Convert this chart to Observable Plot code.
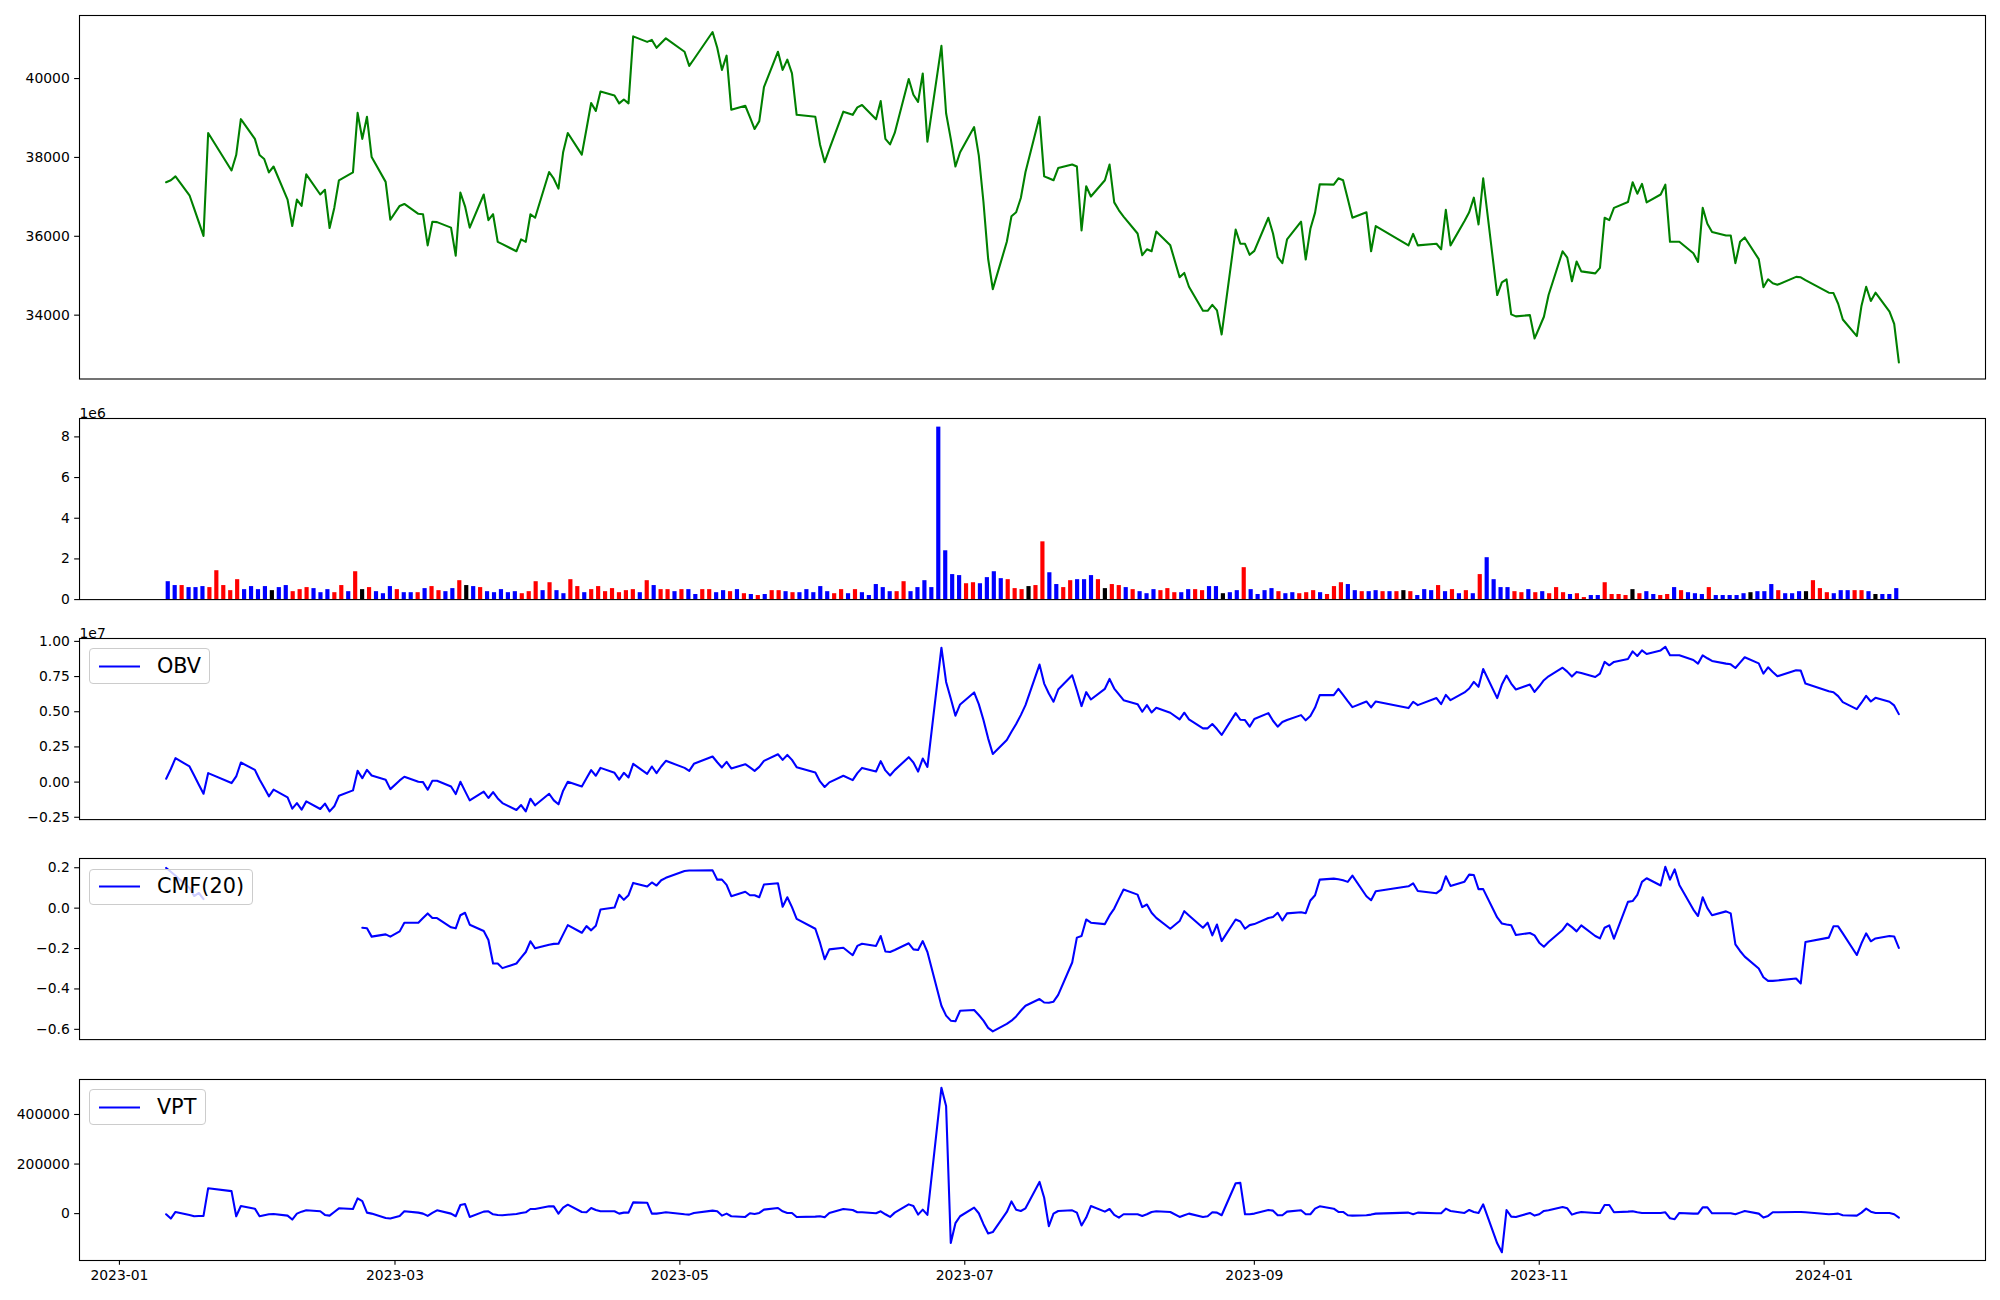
<!DOCTYPE html>
<html><head><meta charset="utf-8">
<script src="https://cdn.jsdelivr.net/npm/d3@7"></script>
<script src="https://cdn.jsdelivr.net/npm/@observablehq/plot@0.6"></script>
<style>
body{margin:0;background:#fff;}
#root{position:relative;width:2000px;height:1300px;font-family:"DejaVu Sans";}
.panel{position:absolute;left:0;}
.legend{position:absolute;background:rgba(255,255,255,0.8);border:1px solid #cccccc;border-radius:4px;display:flex;align-items:center;font-family:"DejaVu Sans";font-size:20.8px;padding:6.5px 8.3px;line-height:21px;color:#000;}
.legend svg{display:block;margin-right:16.6px;}
</style></head><body><div id="root"></div>
<script>
// ---- calendar (trading days) ----
const START = "2023-01-11", END = "2024-01-17";
const HOLIDAYS = ["2023-01-23","2023-01-24","2023-03-01","2023-05-01","2023-05-05","2023-05-29","2023-06-06","2023-08-15","2023-09-28","2023-09-29","2023-10-02","2023-10-03","2023-10-09","2023-12-25","2023-12-29","2024-01-01"];

// ---- close price ----
const CLOSE = [
37370,37420,37520,37040,36700,36360,36010,38620,37670,38060,38970,38470,38060,
37960,37620,37770,36930,36260,36930,36770,37570,37060,37180,36210,36720,37420,37620,39130,38470,39030,38010,37380,36420,
36770,36820,36570,36560,35770,36370,36360,36220,35510,37110,36760,36220,37060,36410,36560,35860,35800,35620,35920,35860,36560,36470,
37630,37460,37210,38130,38620,38070,38720,39380,39180,39670,39570,39370,39470,39370,41070,40930,40980,40780,40900,41020,
40680,40320,40490,41180,40780,40220,40580,39210,39310,39020,38720,38920,39780,40680,40220,40480,40130,39080,39030,38330,
37880,38210,39160,39080,39270,39330,38970,39430,38470,38330,38620,39990,39590,39410,40130,38400,40830,39120,38470,37770,38130,
38770,38050,36870,35430,34660,35860,36510,36610,36970,37630,39030,37520,37470,37420,37730,37820,37770,36150,37270,37010,37420,
37820,36860,36660,36500,36070,35520,35670,35620,36120,35770,34960,35070,34720,34110,34110,34260,34120,33510,36170,35810,35810,35530,
35630,36470,36070,35470,35320,35920,36370,35410,36190,36600,37320,37310,37470,37420,36950,36470,36610,35620,36260,
35770,36060,35770,35810,35670,36670,35770,36390,36610,36980,36300,37470,34510,34830,34910,34020,33970,34000,33410,
33680,33960,34510,35620,35460,34860,35360,35110,35060,35200,36470,36410,36720,36870,37370,37080,37330,36860,37060,37310,35860,35860,
35860,35570,35350,36720,36320,36110,36020,36020,35320,35860,35970,35420,34710,34910,34810,34770,34970,34960,34890,
34570,34560,34290,33890,33470,34240,34720,34360,34570,34090,33780,32800];

// ---- volume (units of 1e6) ----
const VOLUME = [
0.88,0.69,0.69,0.59,0.59,0.64,0.59,1.42,0.69,0.44,0.98,0.49,0.64,
0.49,0.64,0.44,0.59,0.69,0.39,0.49,0.59,0.54,0.34,0.49,0.34,0.69,0.39,1.37,0.49,0.59,0.39,0.29,0.64,
0.49,0.34,0.34,0.34,0.54,0.64,0.44,0.39,0.54,0.93,0.69,0.64,0.59,0.39,0.34,0.49,0.34,0.39,0.29,0.39,0.88,0.44,
0.83,0.44,0.29,0.98,0.64,0.34,0.49,0.64,0.39,0.54,0.34,0.44,0.49,0.34,0.93,0.69,0.49,0.49,0.39,0.49,
0.49,0.25,0.49,0.49,0.34,0.44,0.39,0.49,0.29,0.25,0.20,0.25,0.44,0.44,0.39,0.34,0.34,0.49,0.34,0.64,
0.39,0.29,0.49,0.29,0.49,0.34,0.20,0.74,0.59,0.39,0.39,0.88,0.39,0.59,0.93,0.59,8.48,2.40,1.23,1.18,0.78,
0.83,0.78,1.08,1.37,1.03,0.98,0.54,0.49,0.64,0.69,2.84,1.32,0.74,0.59,0.93,0.98,0.98,1.18,0.98,0.54,0.74,
0.69,0.59,0.49,0.39,0.29,0.49,0.44,0.54,0.34,0.34,0.49,0.49,0.44,0.64,0.64,0.29,0.34,0.44,1.57,0.49,0.25,0.44,
0.54,0.39,0.29,0.34,0.29,0.34,0.44,0.34,0.25,0.64,0.83,0.74,0.44,0.39,0.39,0.44,0.39,0.39,0.39,
0.44,0.39,0.20,0.49,0.44,0.69,0.39,0.49,0.29,0.44,0.29,1.23,2.06,0.98,0.59,0.59,0.39,0.34,0.49,
0.34,0.39,0.29,0.59,0.34,0.25,0.29,0.10,0.20,0.20,0.83,0.25,0.25,0.20,0.49,0.29,0.39,0.25,0.20,0.25,0.59,0.44,
0.34,0.29,0.25,0.59,0.20,0.20,0.20,0.20,0.29,0.34,0.39,0.39,0.74,0.44,0.29,0.29,0.39,0.39,0.93,
0.54,0.34,0.29,0.44,0.44,0.44,0.44,0.39,0.25,0.25,0.25,0.54];

// bar colour per day: B = blue, R = red, K = black
const VOLUME_COLOR = ("BBRBBBRRRRRBB"+"BBKBBRRRBBBRRBRKRBBB"+"RBBRBRRBBRKBRBBBBBRRRB"+"RBBRRBRRRRRRRBRBRRBR"+
  "BBRRBBRBRBRBRRBRBBBB"+"BRRBRBBBBBRRBBBBBBBBR"+"RBBBBRRRKRRBBRRBBBRKR"+"RBRBBBRRRBBRRBBKBBRBBB"+
  "BRBBRRRBRRRBBRBBRBR"+"KRBBBRBRBRBRBBBBRRB"+"RBRRRBRRBBRRRRKRBBRRBR"+"BBBRBBBBBKBBBRBBBKR"+"RRBBBRRBKBBB").split("");

// ---- OBV (units of 1e7) ----
const OBV = [
0.024,0.093,0.170,0.111,0.047,-0.019,-0.083,0.064,-0.007,0.040,0.139,0.087,0.019,
-0.040,-0.101,-0.054,-0.108,-0.189,-0.149,-0.196,-0.137,-0.191,-0.153,-0.208,-0.172,-0.097,-0.059,0.080,0.028,0.087,0.047,0.017,-0.050,
0.012,0.038,0.002,0.000,-0.054,0.009,0.009,-0.031,-0.085,0.002,-0.064,-0.130,-0.068,-0.113,-0.071,-0.116,-0.149,-0.198,-0.163,-0.208,-0.118,-0.165,
-0.083,-0.130,-0.158,-0.061,0.002,-0.031,0.028,0.085,0.045,0.101,0.066,0.017,0.066,0.033,0.130,0.059,0.111,0.064,0.111,0.151,
0.101,0.080,0.130,0.182,0.141,0.104,0.144,0.097,0.127,0.104,0.080,0.108,0.151,0.198,0.158,0.193,0.158,0.106,0.068,0.005,
-0.035,-0.002,0.045,0.014,0.064,0.101,0.075,0.149,0.083,0.047,0.085,0.177,0.139,0.075,0.167,0.108,0.955,0.712,0.594,0.472,0.552,
0.637,0.554,0.441,0.311,0.200,0.299,0.358,0.413,0.476,0.547,0.835,0.700,0.630,0.571,0.658,0.759,0.653,0.540,0.639,0.587,0.663,
0.733,0.665,0.623,0.582,0.554,0.500,0.547,0.495,0.528,0.493,0.446,0.493,0.446,0.382,0.382,0.413,0.377,0.335,0.490,0.443,0.441,0.394,
0.448,0.490,0.436,0.394,0.427,0.441,0.476,0.439,0.469,0.530,0.618,0.618,0.663,0.620,0.575,0.533,0.573,0.531,0.573,
0.526,0.571,0.547,0.597,0.554,0.620,0.582,0.637,0.665,0.712,0.677,0.804,0.597,0.693,0.757,0.700,0.658,0.693,0.641,
0.681,0.724,0.752,0.813,0.785,0.750,0.783,0.776,0.747,0.771,0.854,0.830,0.854,0.875,0.929,0.896,0.936,0.910,0.936,0.962,0.901,0.901,
0.901,0.868,0.842,0.901,0.880,0.861,0.842,0.837,0.811,0.849,0.887,0.844,0.771,0.816,0.783,0.752,0.795,0.792,0.700,
0.646,0.639,0.611,0.568,0.519,0.564,0.613,0.573,0.599,0.571,0.545,0.483];

// ---- CMF(20) ----
const _ = null;
const CMF = [
0.199,0.18,0.16,0.10,0.06,0.075,0.045,_,_,_,_,_,_,
_,_,_,_,_,_,_,_,_,_,_,_,_,_,_,-0.097,-0.100,-0.141,-0.130,-0.141,
-0.115,-0.072,-0.072,-0.049,-0.026,-0.049,-0.049,-0.095,-0.100,-0.035,-0.023,-0.082,-0.113,-0.158,-0.274,-0.274,-0.297,-0.274,-0.245,-0.217,-0.164,-0.199,
-0.181,-0.177,-0.176,-0.130,-0.084,-0.122,-0.089,-0.110,-0.087,-0.007,0.003,0.066,0.041,0.064,0.125,0.107,0.127,0.112,0.138,0.150,
0.184,0.186,0.186,0.187,0.141,0.141,0.115,0.059,0.081,0.064,0.064,0.054,0.117,0.123,0.007,0.054,0.005,-0.053,-0.102,-0.171,
-0.253,-0.204,-0.196,-0.233,-0.187,-0.176,-0.187,-0.138,-0.215,-0.217,-0.207,-0.174,-0.204,-0.207,-0.163,-0.217,-0.483,-0.532,-0.557,-0.560,-0.508,
-0.504,-0.529,-0.557,-0.593,-0.610,-0.573,-0.557,-0.536,-0.508,-0.483,-0.450,-0.467,-0.468,-0.463,-0.429,-0.269,-0.146,-0.138,-0.056,-0.072,-0.079,
-0.036,-0.002,0.046,0.092,0.067,0.005,0.018,-0.023,-0.048,-0.102,-0.064,-0.015,-0.036,-0.097,-0.072,-0.135,-0.081,-0.163,-0.056,-0.066,-0.102,-0.084,
-0.079,-0.049,-0.044,-0.023,-0.061,-0.026,-0.020,-0.025,0.038,0.064,0.141,0.146,0.143,0.138,0.130,0.161,0.059,0.039,0.084,
0.108,0.123,0.085,0.074,0.092,0.158,0.110,0.131,0.166,0.164,0.094,0.094,-0.046,-0.076,-0.081,-0.085,-0.133,-0.123,-0.135,
-0.171,-0.191,-0.168,-0.108,-0.077,-0.094,-0.115,-0.085,-0.138,-0.150,-0.097,-0.085,-0.151,0.031,0.035,0.066,0.130,0.148,0.112,0.205,0.141,0.192,
0.115,-0.007,-0.039,0.054,0.000,-0.035,-0.016,-0.026,-0.179,-0.212,-0.240,-0.299,-0.342,-0.360,-0.360,-0.358,-0.348,-0.373,-0.168,
-0.146,-0.090,-0.090,-0.125,-0.232,-0.174,-0.125,-0.164,-0.150,-0.138,-0.140,-0.197];

// ---- VPT ----
const VPT = [
-2667,-20000,6667,-5333,-10667,-9333,-9333,102667,90667,-10667,30667,20000,-10667,
-6667,-2667,-1333,-8000,-24000,0,8000,13333,9333,-5333,-8000,6667,21333,18667,61333,50667,4000,0,-17333,-20000,
-9333,9333,4000,0,-9333,2667,13333,0,-10667,34667,38667,-13333,8000,9333,-2667,-5333,-6667,-1333,2667,5333,18667,18667,
29333,29333,0,24000,36000,6667,5333,22667,14667,9333,9333,0,4000,4000,45333,44000,0,0,2667,5333,
-2667,-4000,2667,12000,9333,-8000,0,-10667,-13333,1333,-1333,2667,16000,22667,9333,2667,2667,-13333,-12000,-10667,
-14667,2667,18667,14667,5333,5333,1333,9333,-2667,-13333,4000,37333,30667,-4000,16000,-5333,508000,434667,-118667,-38667,-10667,
24000,1333,-42667,-80000,-74667,6667,49333,16000,10667,21333,128000,64000,-50667,0,10667,13333,4000,-48000,-16000,30667,8000,
18667,-5333,-16000,-2667,-2667,-9333,-2667,6667,9333,6667,-13333,-6667,0,-13333,-10667,5333,4000,-6667,122667,124000,-2667,-2667,
0,14667,12000,-6667,-6667,8000,13333,-2667,-2667,20000,29333,20000,6667,6667,-6667,-8000,-6667,-4000,0,
4000,-2667,4000,1333,1333,20000,10667,2667,14667,6667,2667,37333,-120000,-156000,14667,-12000,-13333,2667,-8000,
-2667,10667,13333,26667,21333,-4000,2667,6667,2667,2667,34667,34667,5333,8000,9333,5333,2667,2667,2667,5333,-18667,-22667,
2667,0,0,25333,25333,1333,1333,1333,-2667,4000,10667,0,-16000,-9333,5333,5333,6667,6667,5333,
-2667,-1333,0,-6667,-8000,4000,20000,8000,2667,2667,-2667,-16000];

// ---- tick values ----
const PRICE_TICKS = [34000, 36000, 38000, 40000];
const VOL_TICKS = [0, 2, 4, 6, 8];
const OBV_TICKS = [-0.25, 0, 0.25, 0.5, 0.75, 1.0];
const CMF_TICKS = [-0.6, -0.4, -0.2, 0, 0.2];
const VPT_TICKS = [0, 200000, 400000];
const X_TICKS = ["2023-01-01","2023-03-01","2023-05-01","2023-07-01","2023-09-01","2023-11-01","2024-01-01"];
const COLOR_OF = {B: "blue", R: "red", K: "black"};

// ---- build rows ----
const fmtDay = d3.utcFormat("%Y-%m-%d");
const dates = [];
for (let t = new Date(START + "T00:00:00Z"); t <= new Date(END + "T00:00:00Z"); t = d3.utcDay.offset(t, 1)) {
  const wd = t.getUTCDay();
  if (wd > 0 && wd < 6 && !HOLIDAYS.includes(fmtDay(t))) dates.push(t);
}
const rows = dates.map((date, i) => ({date, i, close: CLOSE[i], vol: VOLUME[i], col: VOLUME_COLOR[i], obv: OBV[i], cmf: CMF[i], vpt: VPT[i]}));

const first = +dates[0], last = +dates[dates.length - 1], span = last - first;
const X_DOMAIN = [new Date(first - 0.05 * span), new Date(last + 0.05 * span)];
const pad = (arr) => { const v = arr.filter(d => d != null); const lo = d3.min(v), hi = d3.max(v), p = (hi - lo) * 0.05; return [lo - p, hi + p]; };
const n = rows.length;
const IDX_DOMAIN = [-0.3 - 0.05 * (n - 1 + 0.6), n - 1 + 0.3 + 0.05 * (n - 1 + 0.6)];

const minus = s => s.replace("-", "\u2212");
const root = document.getElementById("root");
const MT = 20, LEFT = 79, RIGHTM = 15;
const FS = "13.9px";
const TICK = {tickSize: 4.86, tickPadding: 4.86, strokeWidth: 1.1, label: null};

function panel(top, bottom, mb, opts) {
  const h = bottom - top;
  const svg = Plot.plot({
    width: 2000, height: MT + h + mb,
    marginTop: MT, marginBottom: mb, marginLeft: LEFT, marginRight: RIGHTM,
    style: {fontFamily: "DejaVu Sans", fontSize: FS, color: "black", background: "transparent", overflow: "visible"},
    ...opts
  });
  svg.classList.add("panel");
  svg.style.position = "absolute";
  svg.style.top = (top - MT) + "px";
  svg.style.left = "0px";
  root.appendChild(svg);
}

function legend(top, label) {
  const div = document.createElement("div");
  div.className = "legend";
  div.style.left = (LEFT + 10.4) + "px";
  div.style.top = (top + 10.4) + "px";
  div.innerHTML = `<svg width="41.6" height="21"><line x1="0" x2="41.6" y1="10.5" y2="10.5" stroke="blue" stroke-width="2.08"/></svg><span>${label}</span>`;
  root.appendChild(div);
}

// Panel 1: price
panel(15.3, 378.8, 5, {
  x: {type: "utc", domain: X_DOMAIN, axis: null},
  y: {domain: pad(CLOSE)},
  marks: [
    Plot.line(rows, {x: "date", y: "close", stroke: "green", strokeWidth: 2.08}),
    Plot.axisY(PRICE_TICKS, {...TICK, tickFormat: d => String(d)}),
    Plot.frame({stroke: "black", strokeWidth: 1.1})
  ]
});

// Panel 2: volume bars (evenly spaced by day index)
panel(418.4, 599.5, 5, {
  x: {type: "linear", domain: IDX_DOMAIN, axis: null},
  y: {domain: [0, d3.max(VOLUME) * 1.05]},
  marks: [
    Plot.rectY(rows, {x1: d => d.i - 0.3, x2: d => d.i + 0.3, y1: 0, y2: "vol", fill: d => COLOR_OF[d.col]}),
    Plot.axisY(VOL_TICKS, {...TICK, tickFormat: d => String(d)}),
    Plot.text(["1e6"], {text: d => d, frameAnchor: "top-left", textAnchor: "start", dy: -10, fontSize: 13.9}),
    Plot.frame({stroke: "black", strokeWidth: 1.1})
  ]
});

// Panel 3: OBV
panel(637.8, 818.9, 5, {
  x: {type: "utc", domain: X_DOMAIN, axis: null},
  y: {domain: pad(OBV)},
  marks: [
    Plot.line(rows, {x: "date", y: "obv", stroke: "blue", strokeWidth: 2.08}),
    Plot.axisY(OBV_TICKS, {...TICK, tickFormat: d => minus(d.toFixed(2))}),
    Plot.text(["1e7"], {text: d => d, frameAnchor: "top-left", textAnchor: "start", dy: -10, fontSize: 13.9}),
    Plot.frame({stroke: "black", strokeWidth: 1.1})
  ]
});
legend(637.8, "OBV");

// Panel 4: CMF(20)
panel(858.4, 1039.5, 5, {
  x: {type: "utc", domain: X_DOMAIN, axis: null},
  y: {domain: pad(CMF)},
  marks: [
    Plot.line(rows, {x: "date", y: "cmf", stroke: "blue", strokeWidth: 2.08}),
    Plot.axisY(CMF_TICKS, {...TICK, tickFormat: d => minus(d.toFixed(1))}),
    Plot.frame({stroke: "black", strokeWidth: 1.1})
  ]
});
legend(858.4, "CMF(20)");

// Panel 5: VPT with date axis
panel(1079, 1260, 40, {
  x: {type: "utc", domain: X_DOMAIN},
  y: {domain: pad(VPT)},
  marks: [
    Plot.line(rows, {x: "date", y: "vpt", stroke: "blue", strokeWidth: 2.08}),
    Plot.axisY(VPT_TICKS, {...TICK, tickFormat: d => String(d)}),
    Plot.axisX(X_TICKS.map(s => new Date(s + "T00:00:00Z")), {...TICK, tickFormat: d3.utcFormat("%Y-%m")}),
    Plot.frame({stroke: "black", strokeWidth: 1.1})
  ]
});
legend(1079, "VPT");
</script></body></html>
